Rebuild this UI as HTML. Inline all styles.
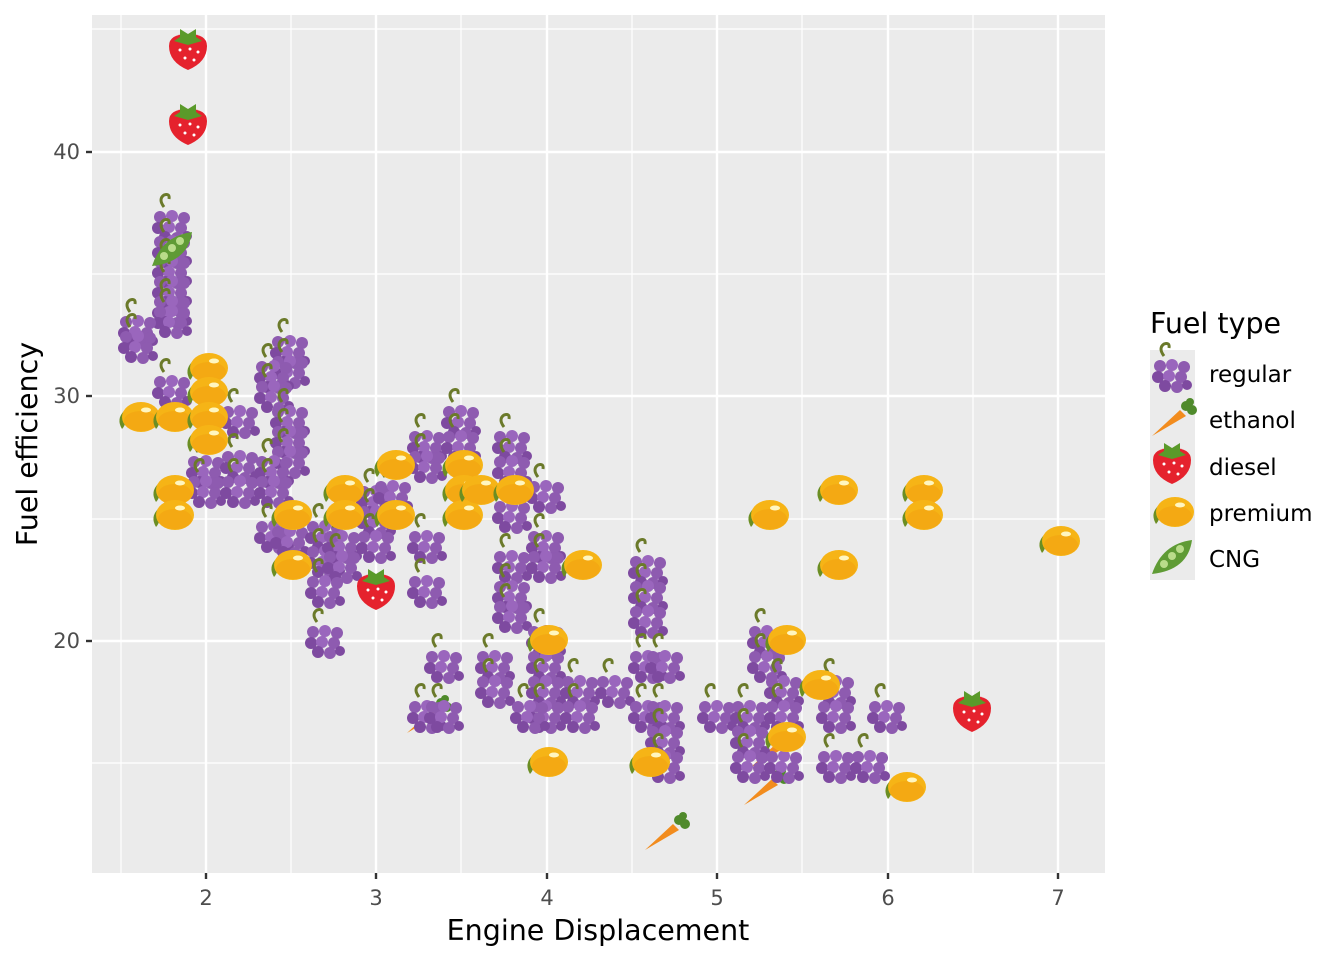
<!DOCTYPE html>
<html><head><meta charset="utf-8"><style>body{margin:0;background:#fff}svg{display:block;font-family:"DejaVu Sans","Liberation Sans",sans-serif}</style></head>
<body>
<svg id="s" width="1344" height="960" viewBox="0 0 1344 960" xmlns="http://www.w3.org/2000/svg">
<defs>
<g id="grape">
<path d="M-8,-18 q-6,-8 0,-12 q6,-2 5,4" stroke="#6b7a2a" stroke-width="3" fill="none"/>
<circle cx="-12" cy="-8" r="6" fill="#8e5bb0"/><circle cx="0" cy="-9" r="6" fill="#9a66bd"/><circle cx="12" cy="-7" r="6" fill="#8e5bb0"/>
<circle cx="-14" cy="3" r="6" fill="#7e4aa0"/><circle cx="-3" cy="2" r="6" fill="#9a66bd"/><circle cx="9" cy="3" r="6" fill="#8e5bb0"/>
<circle cx="-7" cy="12" r="6" fill="#7e4aa0"/><circle cx="5" cy="13" r="6" fill="#8e5bb0"/><circle cx="15" cy="11" r="5" fill="#7e4aa0"/>
</g>
<g id="lemon">
<path d="M-14,-6 q-8,8 -2,18 q6,-6 2,-18z" fill="#6b8e23"/>
<ellipse cx="3" cy="0" rx="19" ry="15" fill="#f6b416"/>
<ellipse cx="3" cy="4" rx="17" ry="10" fill="#f29e10" opacity=".5"/>
<ellipse cx="8" cy="-7" rx="5" ry="2.5" fill="#fff6c0"/>
</g>
<g id="straw">
<path d="M-19,-4 q0,-12 19,-12 q19,0 19,12 q0,16 -19,24 q-19,-8 -19,-24z" fill="#e5222d"/>
<path d="M-14,-9 l6,-4 l0,-8 l8,5 l8,-5 l0,8 l6,4 l-14,4z" fill="#5a9a2a"/>
<g fill="#fff"><circle cx="-8" cy="0" r="1.5"/><circle cx="2" cy="-1" r="1.5"/><circle cx="10" cy="2" r="1.5"/><circle cx="-3" cy="8" r="1.5"/><circle cx="6" cy="10" r="1.5"/></g>
</g>
<g id="carrot">
<path d="M-20,18 L8,-8 L14,-2 Z" fill="#f28c1e"/>
<circle cx="14" cy="-12" r="5" fill="#4f8a2b"/><circle cx="20" cy="-8" r="5" fill="#4f8a2b"/><circle cx="18" cy="-16" r="4" fill="#4f8a2b"/>
</g>
<g id="peas">
<path d="M-20,16 q10,-30 40,-34 q-4,30 -40,34z" fill="#5f9b35"/>
<circle cx="-8" cy="6" r="4" fill="#b9dc8a"/><circle cx="0" cy="-2" r="4" fill="#b9dc8a"/><circle cx="8" cy="-9" r="4" fill="#b9dc8a"/>
</g>
</defs>
<rect x="92" y="15" width="1013" height="858" fill="#ebebeb"/>
<g stroke="#fff" stroke-width="1.2">
<line x1="92" x2="1105" y1="763" y2="763"/><line x1="92" x2="1105" y1="519" y2="519"/><line x1="92" x2="1105" y1="274" y2="274"/><line x1="92" x2="1105" y1="29" y2="29"/>
<line y1="15" y2="873" x1="121" x2="121"/><line y1="15" y2="873" x1="291" x2="291"/><line y1="15" y2="873" x1="461" x2="461"/><line y1="15" y2="873" x1="632" x2="632"/><line y1="15" y2="873" x1="802" x2="802"/><line y1="15" y2="873" x1="973" x2="973"/>
</g>
<g stroke="#fff" stroke-width="2.4">
<line x1="92" x2="1105" y1="641" y2="641"/><line x1="92" x2="1105" y1="396" y2="396"/><line x1="92" x2="1105" y1="152" y2="152"/>
<line y1="15" y2="873" x1="206" x2="206"/><line y1="15" y2="873" x1="376" x2="376"/><line y1="15" y2="873" x1="547" x2="547"/><line y1="15" y2="873" x1="717" x2="717"/><line y1="15" y2="873" x1="888" x2="888"/><line y1="15" y2="873" x1="1058" x2="1058"/>
</g>
<g id="pts"></g>
<g stroke="#333" stroke-width="2.4">
<line x1="86" x2="92" y1="641" y2="641"/><line x1="86" x2="92" y1="396" y2="396"/><line x1="86" x2="92" y1="152" y2="152"/>
<line y1="873" y2="879" x1="206" x2="206"/><line y1="873" y2="879" x1="376" x2="376"/><line y1="873" y2="879" x1="547" x2="547"/><line y1="873" y2="879" x1="717" x2="717"/><line y1="873" y2="879" x1="888" x2="888"/><line y1="873" y2="879" x1="1058" x2="1058"/>
</g>
<g fill="#4d4d4d" font-size="21" text-anchor="end">
<text x="80" y="648">20</text><text x="80" y="403">30</text><text x="80" y="159">40</text>
</g>
<g fill="#4d4d4d" font-size="21" text-anchor="middle">
<text x="206" y="905">2</text><text x="376" y="905">3</text><text x="547" y="905">4</text><text x="717" y="905">5</text><text x="888" y="905">6</text><text x="1058" y="905">7</text>
</g>
<text x="598" y="940" font-size="28.5" text-anchor="middle">Engine Displacement</text>
<text transform="translate(37,444) rotate(-90)" font-size="28.5" text-anchor="middle">Fuel efficiency</text>
<text x="1150" y="333" font-size="28.5">Fuel type</text>
<rect x="1150" y="350" width="45" height="230" fill="#ebebeb"/>
<use href="#grape" x="1172" y="374"/><use href="#carrot" x="1172" y="418"/><use href="#straw" x="1172" y="464"/><use href="#lemon" x="1172" y="512"/><use href="#peas" x="1172" y="558"/>
<g font-size="23"><text x="1209" y="382">regular</text><text x="1209" y="428">ethanol</text><text x="1209" y="475">diesel</text><text x="1209" y="521">premium</text><text x="1209" y="567">CNG</text></g>
</svg>
<script>
var G=[[172,225],[172,250],[172,270],[172,290],[172,310],[172,320],[138,330],[138,345],[172,390],[206,470],[206,490],[240,420],[240,465],[240,490],[290,350],[290,370],[274,375],[274,395],[290,420],[290,440],[290,460],[274,470],[274,490],[274,535],[290,540],[325,535],[325,560],[342,545],[342,565],[325,590],[325,640],[376,500],[376,520],[376,545],[393,495],[427,445],[427,465],[427,545],[427,590],[444,665],[427,715],[444,715],[461,420],[461,445],[495,665],[495,690],[512,445],[512,470],[512,515],[512,565],[512,595],[512,615],[546,495],[546,545],[546,565],[546,640],[546,665],[546,690],[546,715],[530,715],[580,690],[580,715],[615,690],[648,570],[648,595],[648,620],[648,665],[665,665],[648,715],[665,715],[665,740],[665,765],[717,715],[750,715],[750,740],[750,765],[767,640],[767,665],[784,690],[784,715],[784,765],[836,690],[836,715],[836,765],[870,765],[887,715]];
var L=[[138,417],[172,417],[206,368],[206,392],[206,417],[206,440],[172,490],[172,515],[290,515],[290,565],[342,490],[342,515],[393,465],[393,515],[461,465],[461,490],[461,515],[478,490],[512,490],[546,640],[580,565],[546,762],[648,762],[767,515],[784,640],[784,737],[818,685],[836,490],[836,565],[921,490],[921,515],[904,787],[1058,541]];
var S=[[188,50],[188,125],[376,590],[972,712]];
var C=[[665,832],[764,787],[427,715],[770,750]];
var P=[[172,250]];
var h='';
function add(a,id){a.forEach(function(p){h+='<use href="#'+id+'" x="'+p[0]+'" y="'+p[1]+'"/>';});}
add(C,'carrot');add(G,'grape');add(L,'lemon');add(S,'straw');add(P,'peas');
document.getElementById('pts').innerHTML=h;
</script>
</body></html>
